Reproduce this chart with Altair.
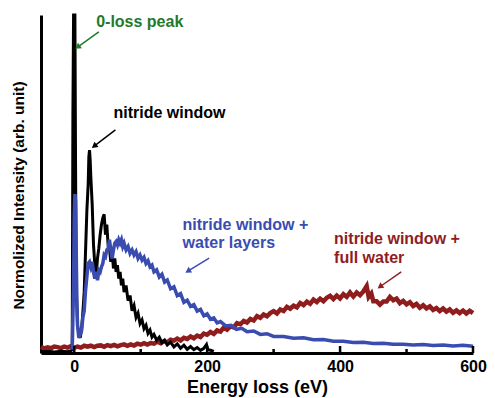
import math
import altair as alt
import pandas as pd

# ---- data (x: energy loss in eV, y: normalised intensity 0-100) ----
black_x = [-50, -40, -30, -20, -10, -5, -3, -2, -1, 1, 2, 3, 5, 7, 9, 11, 13, 15, 17, 19, 21, 22, 23, 24, 25, 27, 29,
           31, 33, 35, 37, 39, 41, 43, 45, 47, 49, 51, 53, 55, 57, 59, 61, 63, 65, 67, 69, 71, 73, 75, 78, 81, 84,
           87, 90, 93, 96, 99, 102, 105, 108, 111, 114, 117, 120, 124, 128, 132, 136, 140, 145, 150, 155, 160, 165,
           170, 175, 180, 185, 190, 195, 199, 201, 205, 210]
black_y = [0.4, 0.5, 0.3, 0.5, 0.4, 0.6, 1.0, 70, 100, 100, 55, 20, 8, 6, 4.5, 7, 12, 18, 30, 42, 50, 58, 60, 57, 52,
           44, 32, 26, 23, 28, 31, 35, 38, 40, 41, 35, 38, 32, 31, 27, 30, 25, 28, 24, 26, 22, 24, 20, 22, 18, 20,
           15.5, 17, 12.5, 14, 10.5, 11.8, 8.7, 9.8, 7.2, 8.2, 5.8, 6.8, 4.7, 5.5, 3.8, 4.7, 3.0, 3.8, 2.4, 3.2, 1.8,
           2.7, 1.4, 2.3, 1.1, 1.9, 1.0, 1.6, 0.8, 1.4, 2.5, 1.0, 0.8, 0.5]

blue_x = [-3, -1, 0, 1, 2, 3, 4, 5, 7, 9, 11, 13, 15, 17, 19, 21, 23, 25, 27, 29, 31, 33, 35, 37, 39, 41, 43, 45, 47,
          49, 51, 53, 55, 57, 59, 61, 63, 65, 67, 69, 71, 73, 75, 78, 81, 84, 87, 90, 93, 96, 99, 102, 105, 108, 111,
          114, 117, 120, 124, 128, 132, 136, 140, 145, 150, 155, 160, 165, 170, 175, 180, 185, 190, 195, 200, 205,
          210, 215, 220, 228, 236, 244, 252, 260, 270, 280, 290, 300, 315, 330, 345, 360, 375, 390, 405, 420, 435,
          450, 465, 480, 495, 510, 525, 540, 555, 570, 585, 600]
blue_y = [1, 20, 40, 47, 45, 30, 15, 8, 4.5, 5.5, 6.5, 10.5, 12.5, 18.5, 22.5, 26.5, 27, 25.5, 27, 24, 22, 24, 21.5,
          24.5, 24, 25.5, 26.5, 29, 28.5, 30.5, 31, 33.5, 30.5, 28, 30.5, 32.5, 33, 32, 33.5, 32.5, 33.5, 31.5, 32.5,
          30.5, 31.5, 29.5, 30.5, 29, 30, 28, 29, 27.5, 28.3, 26.5, 27.3, 25.5, 26, 24, 24.6, 22.5, 23.3, 21, 21.6,
          19, 19.6, 17, 17.6, 15, 15.6, 13.8, 14.3, 12.4, 12.9, 11, 11.6, 10, 10.4, 8.9, 9.3, 8.0, 8.2, 7.0, 7.3,
          6.3, 6.5, 5.5, 5.7, 4.9, 4.9, 4.4, 4.5, 3.9, 4.0, 3.5, 3.5, 3.1, 3.2, 2.8, 2.9, 2.6, 2.6, 2.4, 2.5, 2.2,
          2.4, 2.1, 2.3, 2.0]

red_x = [-50, -45, -40, -35, -30, -25, -20, -15, -10, -5, 0, 5, 10, 15, 20, 25, 30, 35, 40, 45, 50, 55, 60, 65, 70,
         75, 80, 85, 90, 95, 100, 105, 110, 115, 120, 125, 130, 135, 140, 145, 150, 155, 160, 165, 170, 175, 180,
         185, 190, 195, 200, 205, 210, 215, 220, 225, 230, 235, 240, 245, 250, 255, 260, 265, 270, 275, 280, 285,
         290, 295, 300, 305, 310, 315, 320, 325, 330, 335, 340, 345, 350, 355, 360, 365, 370, 375, 380, 385, 390,
         395, 400, 405, 410, 415, 420, 425, 430, 435, 440, 443, 447, 450, 455, 460, 465, 470, 475, 480, 485, 490,
         495, 500, 505, 510, 515, 520, 525, 530, 535, 540, 545, 550, 555, 560, 565, 570, 575, 580, 585, 590, 595,
         600]
red_y = [1.8, 1.35, 1.65, 1.4, 1.9, 1.75, 1.45, 1.9, 1.6, 2.0,
         1.6, 1.9, 1.6, 2.15, 1.85, 2.15, 1.75, 2.15, 2.25, 1.85,
         2.35, 2.05, 2.4, 1.95, 2.35, 2.55, 2.15, 2.55, 2.2, 2.75,
         2.45, 2.9, 2.5, 2.95, 2.75, 3.35, 2.9, 3.5, 3.15, 3.9,
         3.65, 4.25, 3.7, 4.5, 4.15, 4.9, 4.35, 5.15, 4.7, 5.75,
         5.4, 6.2, 5.65, 6.7, 6.35, 7.5, 6.9, 7.85, 7.55, 8.85,
         8.5, 9.5, 9.0, 10.05, 9.6, 10.9, 10.4, 11.4, 10.85, 11.8,
         12.4, 11.7, 12.85, 12.4, 13.65, 13.1, 14.0, 13.5, 14.8, 14.15,
         15.2, 14.55, 15.8, 15.1, 16.05, 15.3, 16.35, 16.9, 15.95, 17.0,
         16.15, 17.4, 16.6, 17.9, 16.7, 17.9, 17.1, 18.2, 19.8, 16.6,
         17.6, 15.3, 15.3, 14.3, 15.2, 15.2, 16.6, 15.6, 16.1, 14.75,
         15.4, 14.4, 15.05, 13.9, 14.5, 13.4, 14.15, 13.2, 13.8, 12.75,
         13.3, 12.4, 13.15, 12.25, 12.9, 11.9, 12.6, 11.8, 12.55, 11.7,
         12.5, 11.8]

major_ticks = [0, 200, 400, 600]
minor_ticks = [100, 300, 500]

label_text = ["0-loss peak", "nitride window", "nitride window +", "water layers", "nitride  window +", "full water"]
label_x = [33, 59, 163, 163, 391, 391]
label_y = [97.9, 71, 37.9, 32.5, 33.7, 28.1]
label_col = ["#1f7a2c", "#000000", "#3a4cb0", "#3a4cb0", "#8f1d1d", "#8f1d1d"]

arrow_x0 = [37, 62, 203, 492]
arrow_y0 = [95, 66, 28.1, 24]
arrow_x1 = [5, 30, 171, 460]
arrow_y1 = [90.5, 61.2, 24.2, 19.6]
arrow_col = ["#1f7a2c", "#000000", "#3a4cb0", "#8f1d1d"]

# ---- chart ----
W, H = 432, 338
XD = [-50, 600]
YD = [0, 100]
FONT = "Liberation Sans"

xs = alt.Scale(domain=XD, nice=False, zero=False)
ys = alt.Scale(domain=YD, nice=False)

xaxis = alt.Axis(values=major_ticks, ticks=False, grid=False, labelFontSize=16, labelFontWeight="bold",
                 labelFont=FONT, labelColor="black", labelPadding=5, labelFlush=False,
                 domainColor="black", domainWidth=3, title="Energy loss (eV)", titleFont=FONT,
                 titleFontSize=18, titleFontWeight="bold", titleColor="black", titlePadding=4)
yaxis = alt.Axis(labels=False, ticks=False, grid=False, domainColor="black", domainWidth=3,
                 title="Normolized Intensity (arb. unit)", titleFont=FONT, titleFontSize=15.5,
                 titleFontWeight="bold", titleColor="black", titlePadding=15, titleY=180)

X = alt.X("x:Q", scale=xs, axis=xaxis)
Y = alt.Y("y:Q", scale=ys, axis=yaxis)


def series(xv, yv, color, sw):
    d = pd.DataFrame({"x": xv, "y": yv})
    return alt.Chart(d).mark_line(color=color, strokeWidth=sw, strokeJoin="miter").encode(x=X, y=Y)


red = series(red_x, red_y, "#8f1d1d", 4.5)
black = series(black_x, black_y, "#000000", 3)
blue = series(blue_x, blue_y, "#3a4cb0", 3.5)

maj = alt.Chart(pd.DataFrame({"x": major_ticks})).mark_rule(color="black", strokeWidth=2.5).encode(
    x=X, y=alt.value(H), y2=alt.value(H - 7))
mnr = alt.Chart(pd.DataFrame({"x": minor_ticks})).mark_rule(color="black", strokeWidth=2.5).encode(
    x=X, y=alt.value(H), y2=alt.value(H - 4))

lab = alt.Chart(pd.DataFrame({"x": label_x, "y": label_y, "t": label_text, "c": label_col})).mark_text(
    align="left", baseline="middle", font=FONT, fontSize=16, fontWeight="bold").encode(
    x=X, y=Y, text="t:N", color=alt.Color("c:N", scale=None))

kx = W / (XD[1] - XD[0])
ky = H / (YD[1] - YD[0])
rows = []
heads = []
for i in range(len(arrow_x0)):
    rows.append({"x": arrow_x0[i], "y": arrow_y0[i], "id": i, "o": 0, "c": arrow_col[i]})
    rows.append({"x": arrow_x1[i], "y": arrow_y1[i], "id": i, "o": 1, "c": arrow_col[i]})
    dx = (arrow_x1[i] - arrow_x0[i]) * kx
    dy = -(arrow_y1[i] - arrow_y0[i]) * ky
    ang = math.degrees(math.atan2(dx, -dy)) % 360
    heads.append({"x": arrow_x1[i], "y": arrow_y1[i], "a": ang, "c": arrow_col[i]})

arr = alt.Chart(pd.DataFrame(rows)).mark_line(strokeWidth=1.5).encode(
    x=X, y=Y, detail="id:N", order="o:Q", color=alt.Color("c:N", scale=None))
hd = alt.Chart(pd.DataFrame(heads)).mark_point(shape="triangle-up", filled=True, size=45, opacity=1).encode(
    x=X, y=Y, angle=alt.Angle("a:Q", scale=None), color=alt.Color("c:N", scale=None))

chart = alt.layer(red, black, blue, maj, mnr, arr, hd, lab).properties(
    width=W, height=H,
    autosize=alt.AutoSizeParams(type="none"),
    padding={"left": 33, "top": 7, "right": 14, "bottom": 45},
    background="white",
).configure_view(stroke=None)

chart.save("out.html", embed_options={"renderer": "svg", "actions": False})
